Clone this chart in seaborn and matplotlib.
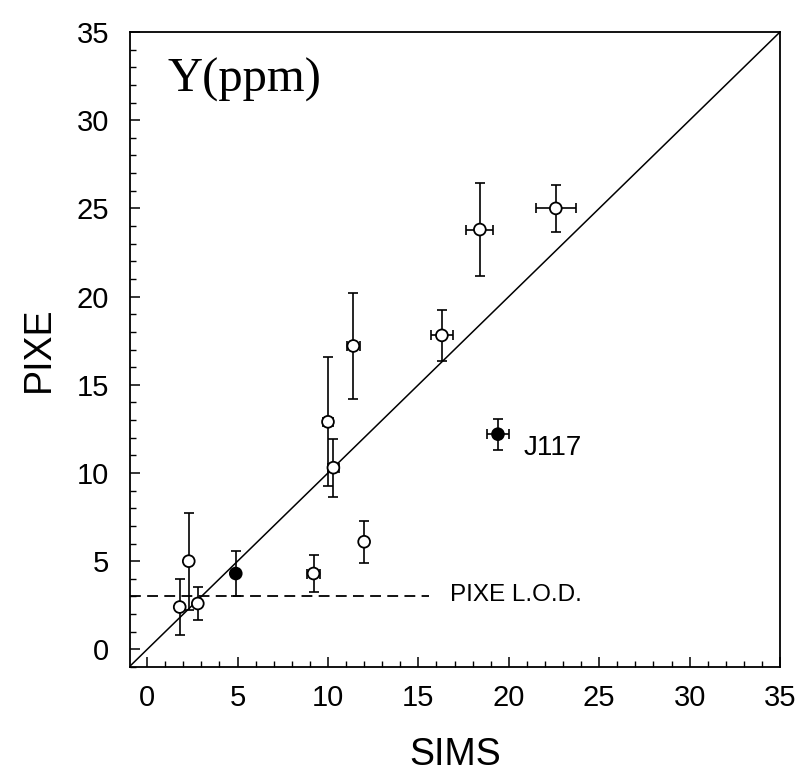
import numpy as np
import pandas as pd
import matplotlib
matplotlib.use("Agg")
import matplotlib.pyplot as plt
import seaborn as sns
from matplotlib.ticker import MultipleLocator

# SIMS vs PIXE, Y (ppm)
sims = [1.8, 2.3, 2.8, 4.9, 9.2, 10.0, 10.3, 12.0, 11.4, 16.3, 18.4, 22.6, 19.4]
sims_err = [0, 0, 0, 0, 0.35, 0.3, 0.3, 0, 0.35, 0.6, 0.75, 1.1, 0.6]
pixe = [2.4, 5.0, 2.6, 4.3, 4.3, 12.9, 10.3, 6.1, 17.2, 17.8, 23.8, 25.0, 12.2]
pixe_err = [1.6, 2.75, 0.95, 1.3, 1.07, 3.65, 1.65, 1.2, 3.0, 1.45, 2.65, 1.33, 0.88]
kind = ["open", "open", "open", "filled", "open", "open", "open", "open",
        "open", "open", "open", "open", "filled"]
pixe_lod = 3.0

df = pd.DataFrame({"SIMS": sims, "SIMS_err": sims_err,
                   "PIXE": pixe, "PIXE_err": pixe_err, "kind": kind})

sns.set_theme(style="white")
plt.rcParams["font.family"] = ["Liberation Sans", "DejaVu Sans"]
plt.rcParams.update({"text.color": "black", "axes.labelcolor": "black",
                     "xtick.color": "black", "ytick.color": "black"})

fig = plt.figure(figsize=(7.96, 7.76), dpi=100)
ax = fig.add_axes([130 / 796, 1 - 667 / 776, 650 / 796, 635 / 776])

# 1:1 line
ax.axline((0, 0), slope=1, color="black", lw=1.1, zorder=1)

# detection limit
ax.plot([-0.95, 15.6], [pixe_lod, pixe_lod], color="black", lw=1.3,
        dashes=(6, 3.5), zorder=1)
ax.text(16.75, pixe_lod + 0.1, "PIXE L.O.D.", fontsize=17.5, va="center", ha="left")

# error bars
ax.errorbar(df["SIMS"], df["PIXE"], yerr=df["PIXE_err"],
            xerr=df["SIMS_err"].where(df["SIMS_err"] > 0),
            fmt="none", ecolor="black", elinewidth=1.2, capsize=3.5,
            capthick=1.2, zorder=2)

sns.scatterplot(data=df, x="SIMS", y="PIXE", hue="kind",
                palette={"open": "white", "filled": "black"},
                edgecolor="black", linewidth=1.3, s=72, legend=False,
                zorder=3, ax=ax)

ax.text(20.8, 11.4, "J117", fontsize=20, va="center", ha="left")
ax.text(1.1, 31.6, "Y(ppm)", fontsize=35, family=["Liberation Serif", "DejaVu Serif"],
        va="baseline", ha="left")

ax.set_xlim(-0.95, 35)
ax.set_ylim(-1, 35)
ax.xaxis.set_major_locator(MultipleLocator(5))
ax.xaxis.set_minor_locator(MultipleLocator(1))
ax.yaxis.set_major_locator(MultipleLocator(5))
ax.yaxis.set_minor_locator(MultipleLocator(1))
ax.tick_params(axis="both", which="major", direction="in", length=7,
               width=1.1, color="black", labelsize=21, bottom=True, left=True,
               top=False, right=False)
ax.tick_params(axis="both", which="minor", direction="in", length=4,
               width=1.0, color="black", bottom=True, left=True,
               top=False, right=False)
ax.tick_params(axis="x", which="major", pad=12)
ax.tick_params(axis="y", which="major", pad=15)

for sp in ax.spines.values():
    sp.set_color("black")
    sp.set_linewidth(1.3)

ax.set_xlabel("SIMS", fontsize=27, labelpad=18)
ax.set_ylabel("PIXE", fontsize=27, labelpad=14)

fig.savefig("out.png", dpi=100, facecolor="white")
